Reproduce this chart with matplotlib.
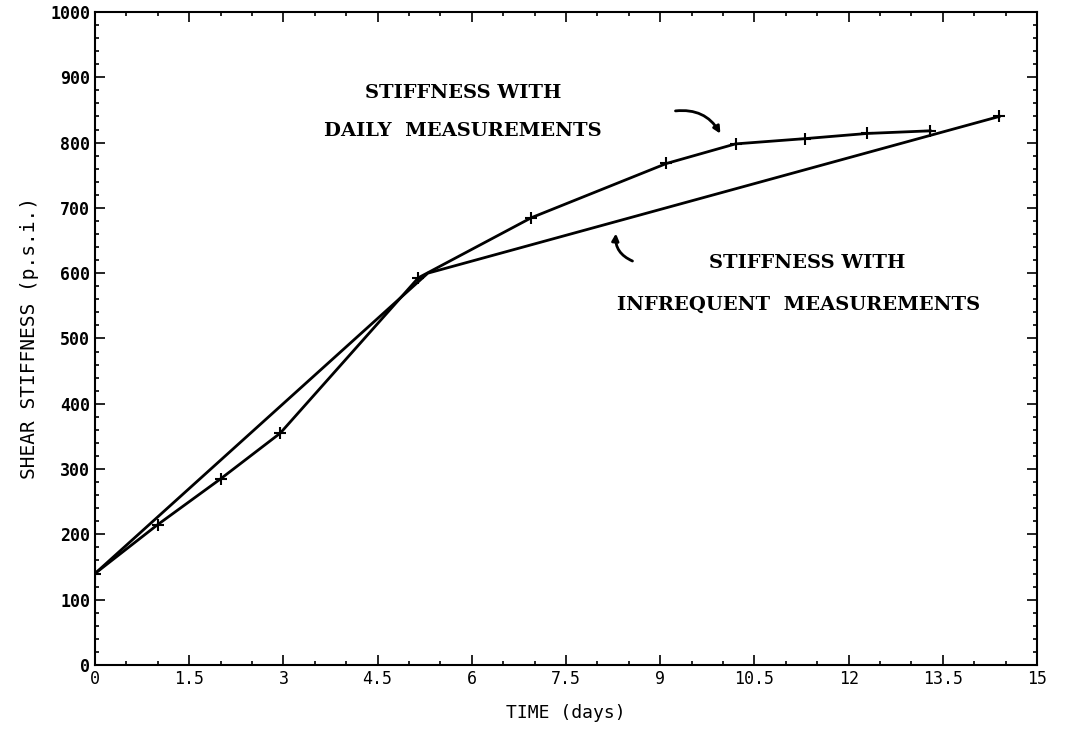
import matplotlib.pyplot as plt
import numpy as np
from matplotlib.ticker import MultipleLocator, FixedLocator

# 数据：每日测量与不定期测量的剪切刚度
daily_days = [0, 1.0, 2.0, 2.95, 5.15, 6.95, 9.1, 10.2, 11.3, 12.3, 13.3]
daily_stiff = [140, 215, 285, 355, 593, 685, 768, 798, 806, 814, 818]

infreq_days = [0, 5.3, 14.4]
infreq_stiff = [140, 600, 840]

xticks = [0, 1.5, 3, 4.5, 6, 7.5, 9, 10.5, 12, 13.5, 15]
xtick_labels = ['0', '1.5', '3', '4.5', '6', '7.5', '9', '10.5', '12', '13.5', '15']
yticks = list(range(0, 1001, 100))

mono = 'DejaVu Sans Mono'
serif = 'DejaVu Serif'

fig = plt.figure(figsize=(10.83, 7.40), dpi=100)
ax = fig.add_axes([0.0877, 0.1014, 0.8698, 0.8824])

ax.plot(daily_days, daily_stiff, '-', color='black', linewidth=2,
        marker='+', markersize=9, markeredgewidth=1.5)
ax.plot(infreq_days, infreq_stiff, '-', color='black', linewidth=2,
        marker='+', markersize=9, markeredgewidth=1.5, markevery=[2])

ax.set_xlim(0, 15)
ax.set_ylim(0, 1000)
ax.xaxis.set_major_locator(FixedLocator(xticks))
ax.set_xticklabels(xtick_labels, fontfamily=mono, fontsize=12)
ax.xaxis.set_minor_locator(MultipleLocator(0.5))
ax.set_yticks(yticks)
ax.set_yticklabels([str(v) for v in yticks], fontfamily=mono, fontsize=12,
                   fontweight='bold')
ax.yaxis.set_minor_locator(MultipleLocator(20))
ax.tick_params(which='both', direction='in', top=True, right=True, width=1.2)
ax.tick_params(which='major', length=7)
ax.tick_params(which='minor', length=3)
for s in ax.spines.values():
    s.set_linewidth(1.5)

ax.set_xlabel('TIME (days)', fontfamily=mono, fontsize=13, labelpad=12)
ax.set_ylabel('SHEAR STIFFNESS (p.s.i.)', fontfamily=mono, fontsize=14,
              labelpad=8)

# 标注文字
ax.text(5.86, 876, 'STIFFNESS WITH', fontfamily=serif, fontweight='bold',
        fontsize=14, ha='center', va='center')
ax.text(5.86, 818, 'DAILY  MEASUREMENTS', fontfamily=serif, fontweight='bold',
        fontsize=14, ha='center', va='center')
ax.text(11.34, 616, 'STIFFNESS WITH', fontfamily=serif, fontweight='bold',
        fontsize=14, ha='center', va='center')
ax.text(11.2, 551, 'INFREQUENT  MEASUREMENTS', fontfamily=serif,
        fontweight='bold', fontsize=14, ha='center', va='center')

ax.annotate('', xy=(9.98, 810), xytext=(9.2, 848),
            arrowprops=dict(arrowstyle='-|>', color='black', lw=2,
                            connectionstyle='arc3,rad=-0.35'))
ax.annotate('', xy=(8.3, 665), xytext=(8.6, 617),
            arrowprops=dict(arrowstyle='-|>', color='black', lw=2,
                            connectionstyle='arc3,rad=-0.4'))

plt.savefig('out.png', dpi=100)
